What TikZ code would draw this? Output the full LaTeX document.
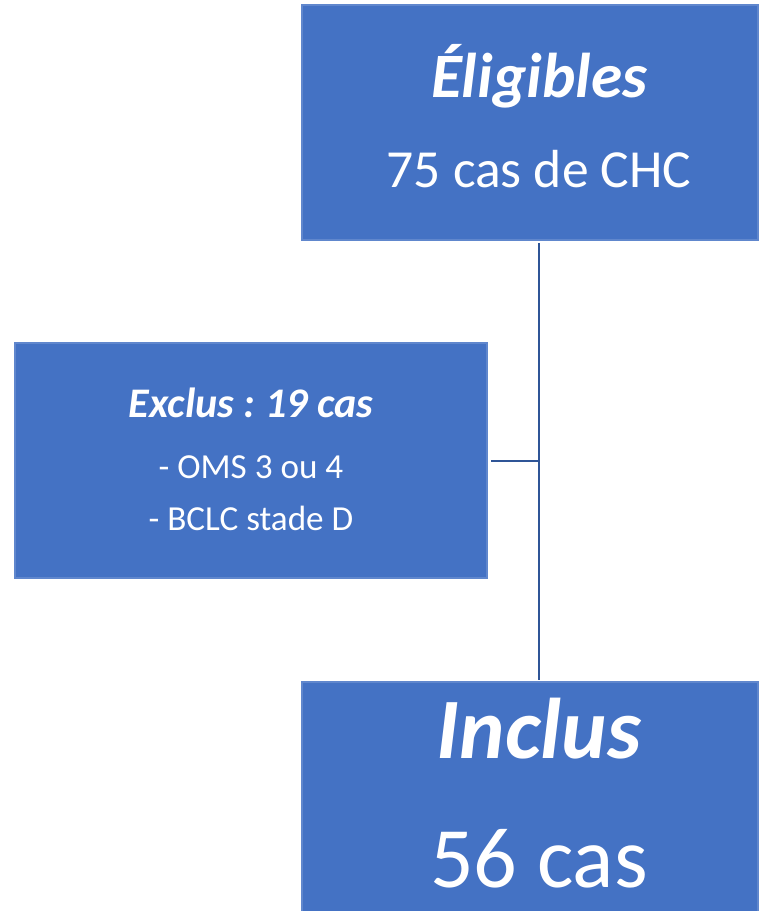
\documentclass[tikz,border=0pt]{standalone}
\usepackage{fontspec}
\setmainfont{Carlito}
\usepackage{xcolor}
\usetikzlibrary{positioning}
\definecolor{boxblue}{HTML}{4472C4}
\definecolor{linkblue}{HTML}{2F5597}
\frenchspacing

\begin{document}
\begin{tikzpicture}[x=0.02cm, y=-0.02cm,
	    box/.style={fill=boxblue, draw=boxblue!85!white, line width=0.6pt, inner sep=0pt},
	    txt/.style={text=white, anchor=base, inner sep=0pt},
	    link/.style={draw=linkblue, line width=1.3pt}
	  ]
	  \useasboundingbox (0,0) rectangle (758,911);
	 
	  % boxes
	  \node[box, minimum width=456*0.02cm, minimum height=235*0.02cm] (elig) at (530,122.5) {};
	  \node[box, minimum width=472*0.02cm, minimum height=235*0.02cm] (excl) at (251,460.5) {};
	  \node[box, minimum width=456*0.02cm, minimum height=235*0.02cm] (incl) at (530,799.5) {};
	 
	  % texts
	  \node[txt, font=\fontsize{36}{40}\selectfont\bfseries\itshape] (eligT) at (539,98) {Éligibles};
	  \node[txt, font=\fontsize{30.5}{36}\selectfont] (eligN) at (539,188) {75 cas de CHC};
	  \node[txt, font=\fontsize{24}{28}\selectfont\bfseries\itshape] (exclT) at (251,418) {Exclus : 19 cas};
	  \node[txt, font=\fontsize{20}{24}\selectfont] (exclA) at (251,478) {- OMS 3 ou 4};
	  \node[txt, font=\fontsize{20}{24}\selectfont] (exclB) at (251,530) {- BCLC stade D};
	  \node[txt, font=\fontsize{49}{56}\selectfont\bfseries\itshape] (inclT) at (539,758) {Inclus};
	  \node[txt, font=\fontsize{49}{56}\selectfont] (inclN) at (539,887) {56 cas};
	 
	  % connectors
	  \coordinate (top) at (539,243);
	  \coordinate (bot) at (539,680);
	  \coordinate (mid) at (539,461);
	  \coordinate (left) at (491,461);
	  \draw[link] (top) -- (bot);
	  \draw[link] (left) -- (mid);
	\end{tikzpicture}
\end{document}
